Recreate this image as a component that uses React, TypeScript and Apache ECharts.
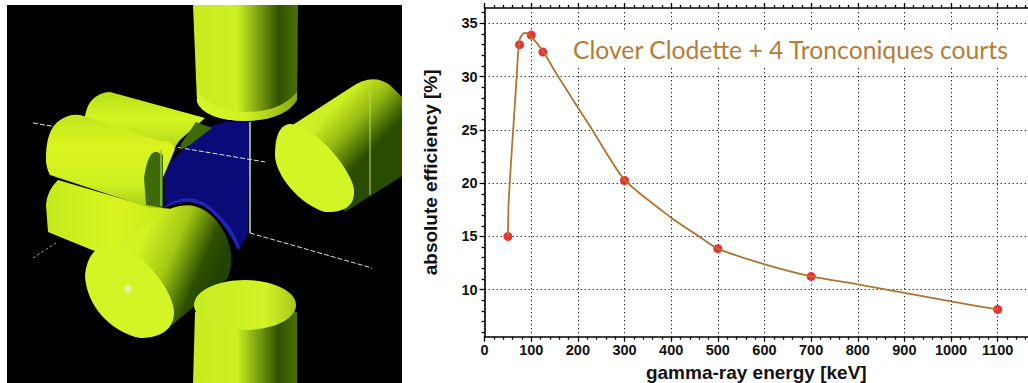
import React, { useEffect, useRef } from "react";
import * as echarts from "echarts";

const pointEnergy = [50, 75, 100, 125, 300, 500, 700, 1100];
const pointEfficiency = [15, 33, 33.9, 32.3, 20.25, 13.85, 11.25, 8.15];
const curveEnergy = [50, 51.7, 60, 68.8, 72, 76, 83, 89, 99, 125, 155, 228, 300, 400, 458, 500, 599, 700, 800, 900, 1000, 1100];
const curveEfficiency = [15, 18.4, 24.2, 30, 32.3, 33.6, 34.05, 34.1, 33.8, 32.4, 30.2, 25.2, 20.3, 16.76, 15.05, 13.85, 12.4, 11.25, 10.5, 9.7, 8.9, 8.15];
const xMajor = [0, 100, 200, 300, 400, 500, 600, 700, 800, 900, 1000, 1100];
const xMinor = [20, 40, 60, 80, 120, 140, 160, 180, 220, 240, 260, 280, 320, 340, 360, 380, 420, 440, 460, 480, 520, 540, 560, 580, 620, 640, 660, 680, 720, 740, 760, 780, 820, 840, 860, 880, 920, 940, 960, 980, 1020, 1040, 1060, 1080, 1120, 1140, 1160];
const yMajor = [10, 15, 20, 25, 30, 35];
const yMinor = [6, 7, 8, 9, 11, 12, 13, 14, 16, 17, 18, 19, 21, 22, 23, 24, 26, 27, 28, 29, 31, 32, 33, 34, 36];
const chartTitle = "Clover Clodette + 4 Tronconiques courts";

const bright = "#d2f526";
const lin = (x: number, y: number, x2: number, y2: number, stops: [number, string][]) =>
  new echarts.graphic.LinearGradient(x, y, x2, y2, stops.map(([offset, color]) => ({ offset, color })));

const sideShade = (x: number, y: number, x2: number, y2: number) =>
  lin(x, y, x2, y2, [[0, "#c8ec1f"], [0.42, "#cdf022"], [0.62, "#7ea212"], [0.82, "#2f5200"], [1, "#4d7005"]]);

const shapes: Record<string, string> = {
  topCyl: "M193 5 L298 5 L297 100 Q285 120 245 121 Q205 120 197 102 Z",
  topCap: "M197 92 Q215 112 247 112 Q280 112 297 92 L297 100 Q285 120 245 121 Q205 120 197 102 Z",
  botBody: "M195 312 L297 312 L297 383 L193 383 Z",
  rightBody: "M288 128 L350 88 Q372 72 390 85 L402 97 L402 176 L345 212 L330 190 Z",
  rightFace: "M290 124 C315 125 352 170 354 190 C355 205 345 213 325 212 C300 205 275 175 275 155 C275 135 280 125 290 124 Z",
  blue: "M165 168 L205 128 L225 122 L250 122 L248 234 L240 248 L225 222 L200 200 L165 205 Z",
  rearCyl: "M84 130 Q84 108 92 100 Q100 92 110 92 L205 118 L180 140 L165 160 L84 140 Z",
  upperCyl: "M46 162 Q45 130 60 120 Q72 112 84 116 L160 141 Q172 140 175 149 L162 180 L163 208 L150 208 L50 175 Q47 170 46 162 Z",
  lowerCyl: "M58 180 Q47 190 46 205 L48 232 L92 250 L130 262 L185 210 L150 207 Z",
  notch: "M157 152 Q148 150 144 178 L146 205 L163 208 L163 155 Z",
  rearNotch: "M181 144 L196 122 L212 128 L190 145 L180 150 Z",
  frontBody: "M112 248 L172 208 Q200 198 220 225 Q233 245 231 265 L228 278 L172 325 L130 290 Z",
  frontFace: "M110 245 C135 245 172 285 174 312 C174 330 160 338 140 338 C110 332 86 305 85 275 C87 255 97 245 110 245 Z",
  blueArc: "M165 206 Q185 192 205 203 Q232 222 240 248 L238 250 Q225 222 205 207 Q185 196 165 208 Z",
};
Object.entries(shapes).forEach(([name, d]) => {
  echarts.graphic.registerShape(name, echarts.graphic.extendPath(d, {}) as any);
});

const p = (type: string, fill: any, extra: any = {}) => ({ type, x: 0, y: 0, silent: true, style: { fill, ...extra } });
const seg = (x1: number, y1: number, x2: number, y2: number, stroke: string, lineDash?: number[], lineWidth = 1) => ({
  type: "line", silent: true, shape: { x1, y1, x2, y2 }, style: { stroke, lineDash, lineWidth },
});

const panel: any[] = [
  { type: "rect", silent: true, shape: { x: 7, y: 5, width: 395, height: 378 }, style: { fill: "#000" } },
  p("blue", "#0a0a78"),
  p("blueArc", "#2222b8"),
  seg(33, 123, 265, 162, "#d8e8e0", [5, 2]),
  seg(250, 122, 250, 233, "#c6dca0", undefined, 1.5),
  seg(250, 233, 372, 268, "#d8e8c8", [5, 2]),
  seg(33, 258, 56, 243, "#8890b0", [3, 2]),
  p("rearCyl", lin(0, 0, 0, 1, [[0, "#b8e018"], [0.4, "#d4f522"], [1, "#a8cc10"]])),
  p("rearNotch", "#3f6a08"),
  p("lowerCyl", lin(0, 0, 1, 0, [[0, "#c4ea1c"], [0.5, "#d8f520"], [1, "#c0e418"]])),
  p("upperCyl", lin(0, 0, 0, 1, [[0, "#c0e61c"], [0.35, "#dcf41e"], [0.75, "#cdf022"], [1, "#a8ce12"]])),
  p("notch", "#3f6a08"),
  seg(161, 150, 161, 206, "#8fc83a", undefined, 1.5),
  p("frontBody", lin(0.31, 0.17, 0.93, 0.44, [[0, "#d2f224"], [0.4, "#a4c814"], [0.8, "#2d5000"], [1, "#234400"]])),
  p("frontFace", bright),
  { type: "circle", silent: true, shape: { cx: 128, cy: 289, r: 4 }, style: { fill: "#e4f2a0" } },
  p("topCyl", sideShade(0, 0, 1, 0)),
  p("topCap", lin(0, 0, 1, 0, [[0, "#d6f628"], [0.5, "#d0f022"], [1, "#88aa10"]])),
  p("rightBody", lin(0.37, 0.24, 0.68, 0.59, [[0, "#cdf022"], [0.45, "#94b812"], [0.95, "#2f5400"], [1, "#2a4c00"]])),
  p("rightFace", bright),
  seg(370, 92, 370, 195, "#c0d870", undefined, 1),
  p("botBody", sideShade(0, 0, 1, 0)),
  { type: "ellipse", silent: true, shape: { cx: 245, cy: 305, rx: 51, ry: 25 }, style: { fill: lin(0, 0, 1, 0, [[0, "#c8ec22"], [0.7, "#d0f226"], [1, "#a8c81a"]]) } },
];

export default function App() {
  const ref = useRef<HTMLDivElement>(null);
  useEffect(() => {
    document.body.style.margin = "0";
    const chart = echarts.init(ref.current!, null, { renderer: "svg" });
    const xMin = 0, xMax = 1165, yMin = 5.59, yMax = 36.44;
    const line = { show: true, onZero: false, lineStyle: { color: "#000", width: 1.6 } };
    const tick = (values: number[], length: number) => ({
      show: true, customValues: values, length, inside: false, lineStyle: { color: "#000", width: 1.3 },
    });
    const tickOnly = (pos: string, values: number[], length: number, grid = false) => ({
      type: "value", position: pos, min: pos === "left" ? yMin : xMin, max: pos === "left" ? yMax : xMax,
      axisLine: { show: false }, axisTick: tick(values, length), axisLabel: { show: false }, splitLine: { show: grid },
    });
    const labelStyle = { show: true, color: "#111", fontFamily: "Liberation Sans", fontWeight: "bold", fontSize: 14.5, formatter: (v: number) => String(v) };
    const nameStyle = { color: "#111", fontFamily: "Liberation Sans", fontWeight: "bold", fontSize: 19 };
    const dotted = { show: true, lineStyle: { color: "#222", type: [1.3, 2.7], width: 1 } };
    chart.setOption({
      animation: false,
      backgroundColor: "#fff",
      grid: { left: 484.6, top: 8, width: 543.4, height: 328.7, containLabel: false, outerBoundsMode: "none" },
      xAxis: [
        {
          type: "value", position: "bottom", min: xMin, max: xMax, name: "gamma-ray energy [keV]",
          nameLocation: "middle", nameGap: 24, nameTextStyle: nameStyle,
          axisLine: line, axisTick: tick(xMajor, 5),
          axisLabel: { ...labelStyle, customValues: xMajor, margin: 6 }, splitLine: dotted,
        },
        tickOnly("bottom", xMinor, 3),
        { type: "value", position: "top", min: xMin, max: xMax, axisLine: line, axisTick: tick(xMajor, 5), axisLabel: { show: false }, splitLine: { show: false } },
        tickOnly("top", xMinor, 3),
      ],
      yAxis: [
        {
          type: "value", position: "left", min: yMin, max: yMax, name: "absolute efficiency [%]",
          nameLocation: "middle", nameGap: 45, nameRotate: 90, nameTextStyle: nameStyle,
          axisLine: line, axisTick: tick(yMajor, 5),
          axisLabel: { ...labelStyle, customValues: yMajor, margin: 7 }, splitLine: dotted,
        },
        tickOnly("left", yMinor, 3),
      ],
      graphic: [
        ...panel.map((g) => ({ ...g, z: 1 })),
        { type: "rect", silent: true, z: 1, shape: { x: 570, y: 30, width: 450, height: 38 }, style: { fill: "#fff" } },
        { type: "text", silent: true, z: 1, x: 573, y: 49, style: { text: chartTitle, fill: "#b47c34", font: "24.7px Lato", textVerticalAlign: "middle" } },
      ],
      series: [
        {
          type: "line", xAxisIndex: 0, yAxisIndex: 0, smooth: 0.2, showSymbol: false, symbol: "none", z: 3,
          lineStyle: { color: "#ac7630", width: 1.8 }, data: curveEnergy.map((x, i) => [x, curveEfficiency[i]]),
        },
        {
          type: "scatter", xAxisIndex: 0, yAxisIndex: 0, symbolSize: 9, z: 2,
          itemStyle: { color: "#ee3035", opacity: 1 }, data: pointEnergy.map((x, i) => [x, pointEfficiency[i]]),
        },
      ],
    });
    return () => chart.dispose();
  }, []);
  return <div ref={ref} style={{ position: "absolute", left: 0, top: 0, width: 1028, height: 383 }} />;
}
